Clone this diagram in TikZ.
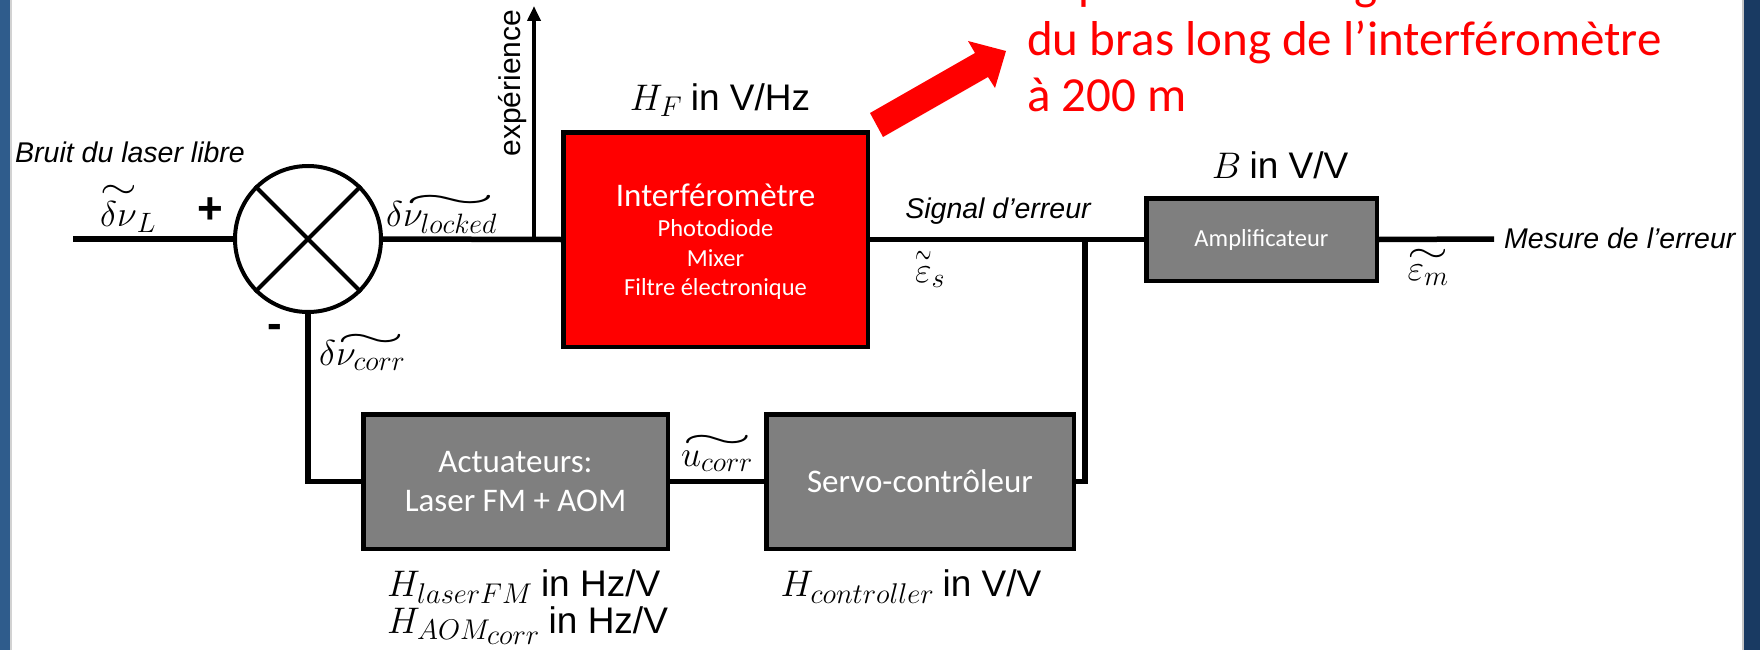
\RequirePackage{fix-cm}
\documentclass[tikz,border=0pt]{standalone}
\usepackage[no-math]{fontspec}
\setmainfont{Carlito}
\newfontfamily\arialf{Liberation Sans}
\usepackage{amsmath}
\usepackage{graphicx}
\usetikzlibrary{arrows.meta,calc}
\definecolor{boxgray}{RGB}{127,127,127}
\definecolor{leftblue}{RGB}{47,92,140}
\definecolor{rightblue}{RGB}{25,58,98}
\DeclareMathSizes{36}{36}{28}{22}
\DeclareMathSizes{37}{37}{28.5}{22.5}
\newlength\tlw
\newcommand\wt[1]{\settowidth{\tlw}{$#1$}\mathord{\vbox{\offinterlineskip\halign{\hfil##\hfil\cr\resizebox{\tlw}{\height}{$\sim$}\cr\noalign{\kern0.06em}$#1$\cr}}}}
\newcommand\fsz[2]{\fontsize{#1}{#2}\selectfont}
\begin{document}
\begin{tikzpicture}[x=1pt,y=-1pt,
  wire/.style={line width=5.5pt},
  thinwire/.style={line width=4.5pt},
  graybox/.style={draw=black, line width=4.5pt, fill=boxgray, text=white, inner sep=0pt, align=center},
  redbox/.style={draw=black, line width=4.5pt, fill=red, text=white, inner sep=0pt, align=center},
  lab/.style={inner sep=0pt, text=black},
  ital/.style={lab, font=\arialf\itshape\fsz{28.5}{34}},
  mathlab/.style={lab, font=\fsz{36}{40}},
  gain/.style={lab, font=\fsz{37}{44}},
  boxtxt/.style={inner sep=0pt, text=white},
  redtxt/.style={inner sep=0pt, text=red, font=\fsz{49}{56}, anchor=base west}]
\useasboundingbox (0,0) rectangle (1760,650);
\fill[white] (0,0) rectangle (1760,650);
% slide edges
\fill[leftblue] (0,0) rectangle (10,650);
\fill[gray!35] (10,0) rectangle (11.5,650);
\fill[gray!45] (1742,0) rectangle (1744,650);
\fill[rightblue] (1744,0) rectangle (1760,650);

% summing junction
\node[draw, circle, line width=4pt, minimum size=146pt, inner sep=0pt] (sum) at (308,239) {};
\draw[line width=4pt] (sum.45) -- (sum.225) (sum.135) -- (sum.315);

% blocks
\node[redbox, minimum width=304.5pt, minimum height=214.5pt] (rbox) at (715.5,239.5) {};
\node[boxtxt, font=\fsz{33}{38}] (rb1) at ($(rbox.center)+(0,-44)$) {Interféromètre};
\node[boxtxt, font=\fsz{24.5}{30}] (rb2) at ($(rbox.center)+(0,-11)$) {Photodiode};
\node[boxtxt, font=\fsz{24.5}{30}] (rb3) at ($(rbox.center)+(0,19)$) {Mixer};
\node[boxtxt, font=\fsz{24.5}{30}] (rb4) at ($(rbox.center)+(0,49)$) {Filtre électronique};

\node[graybox, minimum width=230.5pt, minimum height=82.5pt, font=\fsz{24.5}{30}] (amp) at (1261.5,239.5) {Amplificateur};
\node[graybox, minimum width=304.5pt, minimum height=134.5pt, font=\fsz{33}{39}] (act) at (515.5,481.5) {Actuateurs:\\Laser FM + AOM};
\node[graybox, minimum width=307.5pt, minimum height=134.5pt, font=\fsz{33}{39}] (servo) at (920,481.5) {Servo-contrôleur};

% coordinates
\coordinate (in) at (73,239);
\coordinate (j1) at (534,239);
\coordinate (expTop) at (534,6);
\coordinate (j2) at (1085,239);
\coordinate (outEnd) at (1494,239);

% connectors
\draw[wire] (in) -- (sum.west);
\draw[wire] (sum.east) -- (rbox.west);
\draw[thinwire,-{Triangle[length=15pt,width=13pt]}] (j1) -- (expTop);
\draw[wire] (rbox.east) -- (amp.west);
\draw[wire] (amp.east) -- (outEnd);
\draw[wire] (j2) |- (servo.east);
\draw[wire] (sum.south) |- (act.west);
\draw[wire] (act.east) -- (servo.west);

% labels
\node[ital, anchor=west] (bruit) at (15,152) {Bruit du laser libre};
\node[mathlab, anchor=base] (dnuL) at (128,226) {$\wt{\delta\nu}_L$};
\node[lab, font=\arialf\bfseries\fsz{44}{44}] (plus) at (210,211) {+};
\node[mathlab, anchor=base west] (dnulock) at (386,226) {$\delta\wt{\nu_{locked}}$};
\node[lab, font=\arialf\bfseries\fsz{44}{44}] (minus) at (275,331) {-};
\node[mathlab, anchor=base west] (dnucorr) at (319,365) {$\delta\wt{\nu_{corr}}$};
\node[lab, font=\arialf\fsz{30}{30}, rotate=90] (exper) at (513,83) {expérience};
\node[gain] (HF) at (720,100) {$H_F$ {\arialf in V/Hz}};
\node[ital] (sig) at (998,211) {Signal d’erreur};
\node[mathlab, anchor=base] (epsS) at (930,282) {$\wt{\varepsilon}_s$};
\node[gain] (Bg) at (1280,165) {$B$ {\arialf in V/V}};
\node[mathlab, anchor=base] (epsM) at (1428,280) {$\wt{\varepsilon_m}$};
\node[ital, anchor=west] (mesure) at (1504,238) {Mesure de l’erreur};
\node[mathlab, anchor=base] (ucorr) at (717,466) {$\wt{u_{corr}}$};
\node[gain, anchor=base west] (Hlaser) at (387,596) {$H_{laserFM}$ {\arialf in Hz/V}};
\node[gain, anchor=base west] (Haom) at (387,633) {$H_{AOM_{\scriptstyle corr}}$ {\arialf in Hz/V}};
\node[gain, anchor=base] (Hctrl) at (911,596) {$H_{controller}$ {\arialf in V/V}};

% red annotation
\fill[red] (870,113) -- (975,53) -- (968,41) -- (1006,51) -- (995,88) -- (988,77) -- (883,137) -- cycle;
\node[redtxt] (t1) at (1027,0) {Impact de l’allongement};
\node[redtxt] (t2) at (1027,56) {du bras long de l’interféromètre};
\node[redtxt] (t3) at (1027,112) {à 200 m};
\end{tikzpicture}
\end{document}
